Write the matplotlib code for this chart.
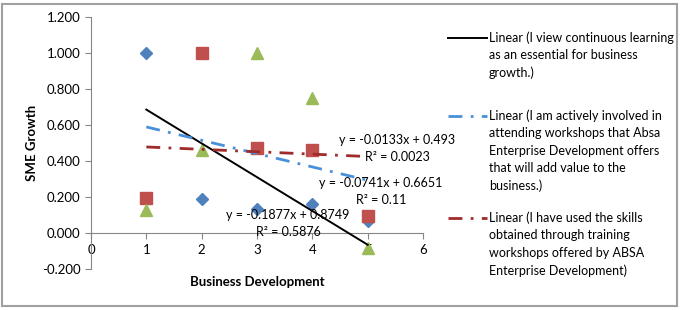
import matplotlib
matplotlib.use("Agg")
import matplotlib.pyplot as plt
from matplotlib.lines import Line2D
from matplotlib.patches import Rectangle
import numpy as np

plt.rcParams['font.family'] = ['Lato', 'DejaVu Sans']

# Data
x_vals = [1, 2, 3, 4, 5]
s1_learning = [1.000, 0.192, 0.133, 0.164, 0.068]      # blue diamonds
s2_workshops = [0.194, 1.000, 0.472, 0.465, 0.094]     # red squares
s3_skills = [0.129, 0.465, 1.000, 0.749, -0.079]       # green triangles

trend_slopes = [-0.1877, -0.0741, -0.0133]
trend_intercepts = [0.8749, 0.6651, 0.493]
trend_eqs = ["y = -0.1877x + 0.8749\nR² = 0.5876",
             "y = -0.0741x + 0.6651\nR² = 0.11",
             "y = -0.0133x + 0.493\nR² = 0.0023"]
legend_labels = ["Linear (I view continuous learning\nas an essential for business\ngrowth.)",
                 "Linear (I am actively involved in\nattending workshops that Absa\nEnterprise Development offers\nthat will add value to the\nbusiness.)",
                 "Linear (I have used the skills\nobtained through training\nworkshops offered by ABSA\nEnterprise Development)"]
x_ticks = [0, 1, 2, 3, 4, 5, 6]
y_ticks = [-0.2, 0.0, 0.2, 0.4, 0.6, 0.8, 1.0, 1.2]

W, H = 680, 310
fig = plt.figure(figsize=(W/100, H/100), dpi=100)
ax = fig.add_axes([91/W, (H-269.3)/H, 332/W, (269.3-17.3)/H])

blue = '#4F81BD'; red = '#C0504D'; green = '#9BBB59'
ax.plot(x_vals, s1_learning, linestyle='none', marker='D', ms=6.5, color=blue, zorder=3)
ax.plot(x_vals, s2_workshops, linestyle='none', marker='s', ms=8, color=red, zorder=3)
ax.plot(x_vals, s3_skills, linestyle='none', marker='^', ms=9, color=green, zorder=3)

styles = [dict(color='black', lw=1.4, linestyle='-'),
          dict(color='#4A90D9', lw=2, linestyle=(0, (5, 3, 1, 3))),
          dict(color='#A02B2B', lw=2, linestyle=(0, (5, 3, 1, 3)))]
xt = np.array([1, 5])
for m, b, st in zip(trend_slopes, trend_intercepts, styles):
    ax.plot(xt, m*xt + b, zorder=4, **st)

eq_pos = [(3.56, 0.055), (5.24, 0.232), (5.53, 0.47)]
for (tx, ty), t in zip(eq_pos, trend_eqs):
    ax.text(tx, ty, t, ha='center', va='center', fontsize=9, linespacing=1.5, zorder=5)

ax.set_xlim(0, 6)
ax.set_ylim(-0.2, 1.2)
ax.set_xticks(x_ticks)
ax.set_yticks(y_ticks)
ax.set_yticklabels([f"{v:.3f}" for v in y_ticks])
ax.spines['top'].set_visible(False)
ax.spines['right'].set_visible(False)
ax.spines['bottom'].set_position(('data', 0))
for s in ('left', 'bottom'):
    ax.spines[s].set_color('#868686')
ax.tick_params(axis='both', direction='out', length=4, color='#868686', labelsize=9.5)
ax.set_ylabel('SME Growth', fontsize=9.5, fontweight='bold')
ax.yaxis.set_label_coords(-0.16, 0.5)
ax.set_xlabel('Business Development', fontsize=9.5, fontweight='bold')
ax.xaxis.set_label_coords(0.5, -0.025)

# Legend (manual)
leg_tops = [38, 116, 218]
for top, lab, st in zip(leg_tops, legend_labels, styles):
    yl = 1 - top/H
    fig.add_artist(Line2D([448/W, 487/W], [yl, yl], transform=fig.transFigure, **st))
    fig.text(489/W, yl + 7/H, lab, ha='left', va='top', fontsize=9, linespacing=1.55,
             transform=fig.transFigure)

fig.add_artist(Rectangle((2/W, 4/H), 675/W, 302/H, transform=fig.transFigure,
                         fill=False, edgecolor='#A0A0A0', lw=1.5))

fig.savefig('out.png', dpi=100)
